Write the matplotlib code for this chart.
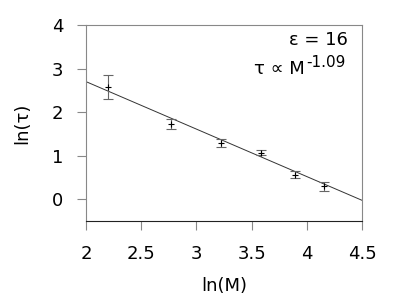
import numpy as np
import matplotlib.pyplot as plt

# ln(M) and ln(tau) with error bars
ln_m = [2.197, 2.773, 3.219, 3.584, 3.892, 4.159]
ln_tau = [2.58, 1.73, 1.29, 1.07, 0.56, 0.30]
err = [0.27, 0.12, 0.10, 0.06, 0.08, 0.10]

slope = -1.09
intercept = 4.88

fig = plt.figure(figsize=(3.98, 2.99), dpi=100)
ax = fig.add_axes([86/398, 1 - 221/299, 276/398, 196/299])

xl = np.array([2.0, 4.5])
ax.plot(xl, intercept + slope * xl, color='#333333', lw=0.7)

ax.errorbar(ln_m, ln_tau, yerr=err, fmt='none', ecolor='#666666',
            elinewidth=0.8, capsize=3.6, capthick=0.8)
ax.plot(ln_m, ln_tau, '+', color='black', ms=5, mew=0.8)

ax.set_xlim(2, 4.5)
ax.set_ylim(-0.5, 4)
ax.set_xticks([2, 2.5, 3, 3.5, 4, 4.5])
ax.set_xticklabels(['2', '2.5', '3', '3.5', '4', '4.5'])
ax.set_yticks([0, 1, 2, 3, 4])

for s in ['top', 'right', 'left']:
    ax.spines[s].set_color('#888888')
ax.spines['bottom'].set_color('#222222')
for s in ax.spines.values():
    s.set_linewidth(0.8)
ax.tick_params(direction='out', length=6.5, width=0.8, color='#888888',
               labelsize=13)
ax.tick_params(axis='x', pad=11)
ax.tick_params(axis='y', pad=10)

ax.set_xlabel('ln(M)', fontsize=13, labelpad=10)
ax.set_ylabel('ln(τ)', fontsize=13, labelpad=15)

fig.text(348/398, 1 - 45/299, 'ε = 16', ha='right', va='baseline', fontsize=13)
fig.text(305/398, 1 - 74/299, 'τ ∝ M', ha='right', va='baseline', fontsize=13)
fig.text(306/398, 1 - 67/299, '-1.09', ha='left', va='baseline', fontsize=11)

fig.savefig('out.png', dpi=100)
